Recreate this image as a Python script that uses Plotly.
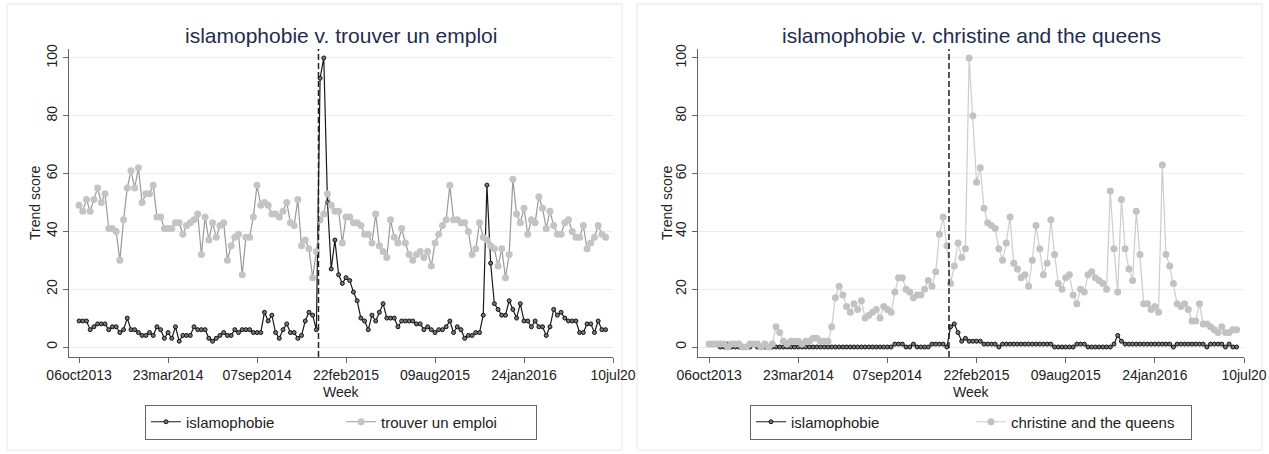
import pandas as pd
import plotly.graph_objects as go

# ---------------- data ----------------
start_date = "2013-10-06"
n_weeks = 143

tick_dates = ["2013-10-06", "2014-03-23", "2014-09-07", "2015-02-22",
              "2015-08-09", "2016-01-24", "2016-07-10"]
tick_labels = ["06oct2013", "23mar2014", "07sep2014", "22feb2015",
               "09aug2015", "24jan2016", "10jul20"]
event_date = "2015-01-01"

islam_left = [9, 9, 9, 6, 7, 8, 8, 8, 6, 7,
              7, 5, 6, 10, 6, 6, 5, 4, 4, 5,
              4, 7, 6, 3, 5, 3, 7, 2, 4, 4,
              4, 7, 6, 6, 6, 3, 2, 3, 4, 5,
              4, 4, 6, 5, 6, 6, 6, 5, 5, 5,
              12, 9, 11, 5, 3, 6, 8, 5, 5, 3,
              4, 9, 12, 11, 6,
              93, 100, 50,
              27, 37, 25, 22, 24, 23, 19, 16, 10, 9,
              6, 11, 9, 12, 15, 10, 10, 10, 7, 9,
              9, 9, 9, 8, 8, 6, 7, 6, 5, 6,
              6, 7, 9, 5, 7, 6, 3, 4, 4, 5,
              5, 11, 56, 29, 15, 13, 11, 11, 16, 13,
              10, 15, 9, 9, 7, 9, 7, 7, 4, 7,
              13, 11, 12, 10, 9, 9, 9, 5, 5, 8,
              8, 5, 9, 6, 6]

emploi = [49, 47, 51, 47, 51, 55, 50, 53, 41, 41,
          40, 30, 44, 55, 61, 55, 62, 50, 53, 53,
          56, 45, 45, 41, 41, 41, 43, 43, 39, 42,
          43, 44, 46, 32, 45, 37, 43, 38, 42, 43,
          30, 35, 38, 39, 25, 38, 38, 45, 56, 49,
          50, 49, 46, 46, 45, 47, 50, 43, 42, 51,
          35, 37, 34, 24, 33,
          44, 46, 53,
          49, 47, 47, 36, 45, 45, 43, 43, 42, 39,
          39, 36, 46, 35, 33, 31, 44, 38, 36, 41,
          36, 32, 30, 32, 33, 31, 33, 28, 36, 39,
          42, 44, 56, 44, 44, 43, 43, 40, 32, 34,
          43, 38, 37, 35, 34, 28, 34, 24, 32, 58,
          46, 43, 48, 39, 44, 43, 52, 48, 41, 47,
          42, 39, 39, 43, 44, 40, 38, 38, 42, 34,
          36, 38, 42, 39, 38]

islam_right = [1, 1, 1, 0, 0, 1, 0, 0, 0, 0,
               0, 0, 1, 0, 0, 0, 0, 0, 0, 0,
               0, 0, 0, 0, 0, 0, 0, 0, 0, 0,
               0, 0, 0, 0, 0, 0, 0, 0, 0, 0,
               0, 0, 0, 0, 0, 0, 0, 0, 0, 0,
               1, 1, 1, 0, 0, 1, 0, 0, 0, 0,
               1, 1, 1, 1, 0, 7, 8, 5, 2, 3,
               2, 2, 2, 2, 1, 1, 1, 1, 0, 1,
               1, 1, 1, 1, 1, 1, 1, 1, 1, 1,
               1, 1, 1, 0, 0, 0, 0, 0, 0, 1,
               1, 1, 0, 0, 0, 0, 0, 0, 0, 1,
               4, 2, 1, 1, 1, 1, 1, 1, 1, 1,
               1, 1, 1, 1, 1, 0, 1, 1, 1, 1,
               1, 1, 1, 1, 0, 1, 1, 1, 1, 0,
               1, 0, 0]

christine = [1, 1, 1, 1, 1, 0, 1, 1, 1, 0,
             0, 1, 1, 1, 0, 1, 0, 1,
             7, 5, 2, 1, 2, 2, 2, 1, 2, 2,
             3, 3, 2, 2, 2, 7, 17, 21, 18, 14,
             12, 15, 13, 16, 10, 11, 12, 13, 10, 14,
             13, 12, 19, 24, 24, 20, 19, 17, 18, 18,
             20, 23, 21, 26, 39, 45, 35, 22, 28, 36,
             31, 34,
             100, 80, 57, 62, 48, 43, 42, 41, 34, 30,
             36, 45, 29, 27, 24, 25, 21, 30, 42, 34,
             25, 29, 44, 32, 22, 20, 24, 25, 18, 15,
             20, 19, 25, 26, 24, 23, 22, 20, 54, 34,
             19, 51, 34, 27, 23, 47, 32, 15, 15, 13,
             14, 12, 63, 32, 28, 22, 15, 14, 15, 13,
             9, 9, 15, 8, 8, 7, 6, 5, 7, 5,
             5, 6, 6]

weeks = pd.date_range(start_date, periods=n_weeks, freq="7D")

# ---------------- figure ----------------
W, H = 1269, 454
FONT = "Liberation Sans, Arial, sans-serif"
TITLE_COL = "#1f2d50"


def px_x(p):
    return p / W


def px_y(p):
    return (H - p) / H


fig = go.Figure()

black_line = dict(color="#1a1a1a", width=1.2)
black_marker = dict(size=4, color="#777777", line=dict(color="#111111", width=1))

fig.add_trace(go.Scatter(x=weeks, y=islam_left, name="islamophobie", mode="lines+markers",
                         line=black_line, marker=black_marker,
                         xaxis="x", yaxis="y", legend="legend"))
fig.add_trace(go.Scatter(x=weeks, y=emploi, name="trouver un emploi", mode="lines+markers",
                         line=dict(color="#9a9a9a", width=1.2),
                         marker=dict(size=7, color="#c4c4c4"),
                         xaxis="x", yaxis="y", legend="legend"))
fig.add_trace(go.Scatter(x=weeks, y=islam_right, name="islamophobie", mode="lines+markers",
                         line=black_line, marker=black_marker,
                         xaxis="x2", yaxis="y2", legend="legend2"))
fig.add_trace(go.Scatter(x=weeks, y=christine, name="christine and the queens", mode="lines+markers",
                         line=dict(color="#cdcdcd", width=1.2),
                         marker=dict(size=7, color="#c2c2c2"),
                         xaxis="x2", yaxis="y2", legend="legend2"))

y_dom = [px_y(357), px_y(49)]
y_rng = [-3.46, 103.1]

xcommon = dict(type="date", tickmode="array", tickvals=tick_dates, ticktext=tick_labels,
               ticks="outside", ticklen=5, tickcolor="#666666", showline=True,
               linecolor="#666666", linewidth=1, showgrid=False, zeroline=False,
               automargin=False,
               tickfont=dict(size=14, color="#222222", family=FONT), fixedrange=True)
ycommon = dict(range=y_rng, tickvals=[0, 20, 40, 60, 80, 100], ticks="outside", ticklen=5,
               tickcolor="#666666", showline=True, linecolor="#666666", linewidth=1,
               showgrid=True, gridcolor="#ececec", gridwidth=1, zeroline=False,
               automargin=False, fixedrange=True,
               tickangle=-90, tickfont=dict(size=14, color="#222222", family=FONT),
               domain=y_dom)

fig.update_layout(
    template="none",
    width=W, height=H, autosize=False,
    margin=dict(l=0, r=0, t=0, b=0, pad=0, autoexpand=False),
    paper_bgcolor="white", plot_bgcolor="white",
    font=dict(family=FONT, size=14, color="#222222"),
    xaxis=dict(domain=[px_x(69), px_x(613)], range=["2013-09-17", "2016-07-10"],
               anchor="y", **xcommon),
    yaxis=dict(anchor="x", **ycommon),
    xaxis2=dict(domain=[px_x(698), px_x(1244)], range=["2013-09-15", "2016-07-10"],
                anchor="y2", **xcommon),
    yaxis2=dict(anchor="x2", **ycommon),
    legend=dict(x=px_x(341), y=px_y(422), xanchor="center", yanchor="middle",
                orientation="h", bordercolor="#666666", borderwidth=1, bgcolor="white",
                font=dict(size=15, family=FONT, color="#222222"),
                entrywidth=150, entrywidthmode="pixels"),
    legend2=dict(x=px_x(971), y=px_y(422), xanchor="center", yanchor="middle",
                 orientation="h", bordercolor="#666666", borderwidth=1, bgcolor="white",
                 font=dict(size=15, family=FONT, color="#222222"),
                 entrywidth=175, entrywidthmode="pixels"),
    showlegend=True,
    hovermode=False,
)

# event lines
for xr, yr in (("x", "y"), ("x2", "y2")):
    fig.add_shape(type="line", xref=xr, yref=yr, x0=event_date, x1=event_date,
                  y0=y_rng[0], y1=y_rng[1],
                  line=dict(color="#222222", width=1.5, dash="6px,3px"))

# panel borders
for x0, x1 in ((7, 622), (637, 1262)):
    fig.add_shape(type="rect", xref="paper", yref="paper", x0=px_x(x0), x1=px_x(x1),
                  y0=px_y(450), y1=px_y(4), line=dict(color="#e6e6e6", width=1),
                  fillcolor="rgba(0,0,0,0)", layer="below")

# titles and axis titles
titles = [("islamophobie v. trouver un emploi", 341, 35),
          ("islamophobie v. christine and the queens", 971, 667)]
for text, cx, ytx in titles:
    fig.add_annotation(text=text, x=px_x(cx), y=px_y(35), xref="paper", yref="paper",
                       showarrow=False, xanchor="center", yanchor="middle",
                       font=dict(size=21, color=TITLE_COL, family=FONT))
    fig.add_annotation(text="Trend score", x=px_x(ytx), y=px_y(203), xref="paper", yref="paper",
                       showarrow=False, textangle=-90, xanchor="center", yanchor="middle",
                       font=dict(size=14, color="#222222", family=FONT))
    fig.add_annotation(text="Week", x=px_x(cx), y=px_y(392), xref="paper", yref="paper",
                       showarrow=False, xanchor="center", yanchor="middle",
                       font=dict(size=14, color="#222222", family=FONT))

fig.write_html("out.html", config={"displayModeBar": False},
               post_script="document.body.style.margin='0';document.body.style.overflow='hidden';")
